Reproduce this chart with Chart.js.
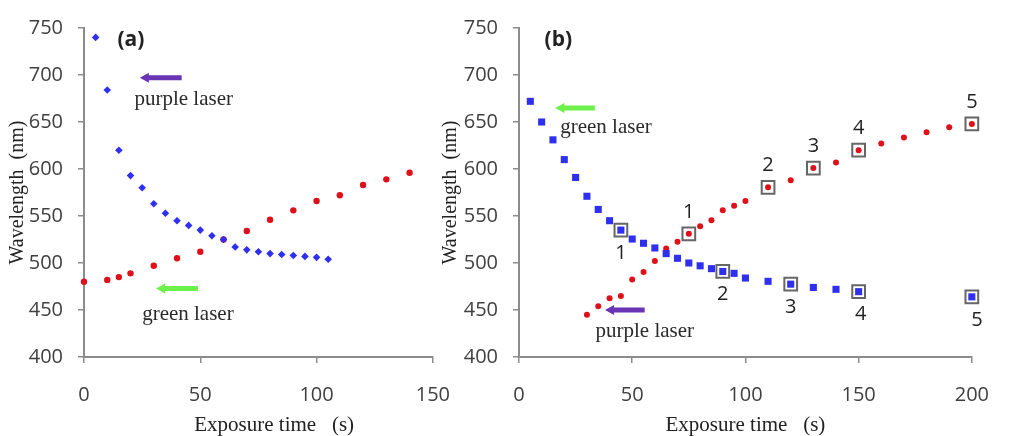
<!DOCTYPE html>
<html>
<head>
<meta charset="utf-8">
<script src="https://cdn.jsdelivr.net/npm/chart.js@4.4.1/dist/chart.umd.min.js"></script>
<style>
  html, body { margin: 0; padding: 0; background: #fff; }
  body { width: 1009px; height: 436px; position: relative; overflow: hidden; }
  .panel { position: absolute; top: 0; height: 436px; }
  #boxA { left: 0; width: 470px; }
  #boxB { left: 430px; width: 579px; }
</style>
</head>
<body>
<div class="panel" id="boxA"><canvas id="chartA"></canvas></div>
<div class="panel" id="boxB"><canvas id="chartB"></canvas></div>
<script>
// panel (a)
var aBlueTime = [5, 10, 15, 20, 25, 30, 35, 40, 45, 50, 55, 60, 65, 70, 75, 80, 85, 90, 95, 100, 105];
var aBlueWave = [740, 684, 620, 593, 580, 563, 553, 545, 540, 535, 529, 525, 517, 514, 512, 510, 509, 508, 507, 506, 504];
var aRedTime = [0, 10, 15, 20, 30, 40, 50, 60, 70, 80, 90, 100, 110, 120, 130, 140];
var aRedWave = [480, 482, 485, 489, 497, 505, 512, 525, 534, 546, 556, 566, 572, 583, 589, 596];

// panel (b)
var bBlueTime = [5, 10, 15, 20, 25, 30, 35, 40, 45, 50, 55, 60, 65, 70, 75, 80, 85, 90, 95, 100, 110, 120, 130, 140, 150, 200];
var bBlueWave = [672, 650, 631, 610, 591, 571, 557, 545, 535, 525.5, 521, 516, 510, 505, 500, 497, 494, 491, 489, 484, 480.5, 477.5, 474, 472, 469.5, 464];
var bRedTime = [30, 35, 40, 45, 50, 55, 60, 65, 70, 75, 80, 85, 90, 95, 100, 110, 120, 130, 140, 150, 160, 170, 180, 190, 200];
var bRedWave = [445, 454, 462.5, 465, 482.5, 490.5, 502, 515.5, 522.5, 531, 539, 545.5, 556, 561, 566, 580.5, 588, 601, 607, 620, 627, 633.5, 639, 644.5, 648];

// boxed points in (b) and their numbers
var bRedBoxed = [75, 110, 130, 150, 200];
var bBlueBoxed = [45, 90, 120, 150, 200];
var boxNumbers = ["1", "2", "3", "4", "5"];

var yMin = 400, yMax = 750, yStep = 50;
var aTimeMax = 150, bTimeMax = 200, timeStep = 50;

// laser arrows and labels, in data units
var aArrows = [
    { from: 42, to: 24, y: 697, color: "#6a35b5" },
    { from: 49, to: 31, y: 473, color: "#6cf04a" }
];
var aNotes = [
    { x: 21.7, y: 674, text: "purple laser" },
    { x: 25, y: 445, text: "green laser" },
    { x: 14.4, y: 737, text: "(a)", bold: true }
];
var bArrows = [
    { from: 33.5, to: 16, y: 665, color: "#6cf04a" },
    { from: 55.5, to: 38, y: 450, color: "#6a35b5" }
];
var bNotes = [
    { x: 18.2, y: 644, text: "green laser" },
    { x: 33.8, y: 427, text: "purple laser" },
    { x: 11.3, y: 737, text: "(b)", bold: true }
];

function pairs(xs, ys) {
    return xs.map(function (t, i) { return { x: t, y: ys[i] }; });
}
function picked(list, xs, ys) {
    return list.map(function (t) { return { x: t, y: ys[xs.indexOf(t)] }; });
}

var overlay = {
    id: "overlay",
    afterDatasetsDraw: function (chart, args, opts) {
        var ctx = chart.ctx;
        var sx = chart.scales.x, sy = chart.scales.y;
        ctx.save();
        (opts.arrows || []).forEach(function (a) {
            var x1 = sx.getPixelForValue(a.from);
            var x2 = sx.getPixelForValue(a.to);
            var py = sy.getPixelForValue(a.y);
            ctx.strokeStyle = a.color;
            ctx.fillStyle = a.color;
            ctx.lineWidth = 5;
            ctx.beginPath();
            ctx.moveTo(x1, py);
            ctx.lineTo(x2 + 7, py);
            ctx.stroke();
            ctx.beginPath();
            ctx.moveTo(x2, py);
            ctx.lineTo(x2 + 9, py - 5);
            ctx.lineTo(x2 + 9, py + 5);
            ctx.closePath();
            ctx.fill();
        });
        ctx.textBaseline = "middle";
        ctx.textAlign = "left";
        (opts.notes || []).forEach(function (n) {
            ctx.fillStyle = n.bold ? "#222" : "#2a2a2a";
            ctx.font = n.bold ? "bold 21px 'Open Sans'" : "21px 'Liberation Serif'";
            ctx.fillText(n.text, sx.getPixelForValue(n.x), sy.getPixelForValue(n.y));
        });
        // numbers next to the boxed points
        ctx.textAlign = "center";
        ctx.fillStyle = "#222";
        ctx.font = "20px 'Open Sans'";
        (opts.boxSets || []).forEach(function (b) {
            var meta = chart.getDatasetMeta(b.index);
            meta.data.forEach(function (el, i) {
                ctx.fillText(boxNumbers[i], el.x + (b.dx ? b.dx[i] : 0), el.y + b.offset);
            });
        });
        ctx.restore();
    }
};

function axes(timeMax, yWidth, xTitle, yTitlePad) {
    var tickFont = { family: "'Open Sans'", size: 20 };
    return {
        x: {
            type: "linear",
            min: 0, max: timeMax,
            afterFit: function (s) { s.height = 79; },
            ticks: { stepSize: timeStep, color: "#404040", font: tickFont, padding: 20 },
            grid: { drawOnChartArea: false, color: "#8c8c8c", tickLength: 6, lineWidth: 1.5 },
            border: { color: "#8c8c8c", width: 2 },
            title: {
                display: true, text: xTitle, color: "#222",
                font: { family: "'Liberation Serif'", size: 21, lineHeight: 1 },
                padding: { top: 0, bottom: 0 }
            }
        },
        y: {
            min: yMin, max: yMax,
            afterFit: function (s) { s.width = yWidth; },
            ticks: { stepSize: yStep, color: "#404040", font: tickFont, padding: 15 },
            grid: { drawOnChartArea: false, color: "#8c8c8c", tickLength: 6, lineWidth: 1.5 },
            border: { color: "#8c8c8c", width: 2 },
            title: {
                display: true, text: "Wavelength  (nm)", color: "#222",
                font: { family: "'Liberation Serif'", size: 20 },
                padding: { top: yTitlePad, bottom: 0 }
            }
        }
    };
}

new Chart("chartA", {
    type: "scatter",
    data: {
        datasets: [{
            data: pairs(aBlueTime, aBlueWave),
            pointStyle: "rectRot",
            pointRadius: 3.8,
            backgroundColor: "#2f2ff0",
            borderWidth: 0
        }, {
            data: pairs(aRedTime, aRedWave),
            pointStyle: "circle",
            pointRadius: 3.2,
            backgroundColor: "#e0101a",
            borderWidth: 0
        }]
    },
    options: {
        responsive: true,
        maintainAspectRatio: false,
        animation: false,
        clip: false,
        layout: { padding: { left: 0, top: 28, right: 34, bottom: 0 } },
        plugins: {
            legend: { display: false },
            tooltip: { enabled: false },
            overlay: { arrows: aArrows, notes: aNotes }
        },
        scales: axes(aTimeMax, 84, "      Exposure time   (s)", 6)
    },
    plugins: [overlay]
});

new Chart("chartB", {
    type: "scatter",
    data: {
        datasets: [{
            data: picked(bRedBoxed, bRedTime, bRedWave),
            pointStyle: "rect",
            pointRadius: 9,
            backgroundColor: "rgba(0,0,0,0)",
            borderColor: "#666",
            borderWidth: 2
        }, {
            data: picked(bBlueBoxed, bBlueTime, bBlueWave),
            pointStyle: "rect",
            pointRadius: 9,
            backgroundColor: "rgba(0,0,0,0)",
            borderColor: "#666",
            borderWidth: 2
        }, {
            data: pairs(bBlueTime, bBlueWave),
            pointStyle: "rect",
            pointRadius: 5,
            backgroundColor: "#2f2ff0",
            borderWidth: 0
        }, {
            data: pairs(bRedTime, bRedWave),
            pointStyle: "circle",
            pointRadius: 3,
            backgroundColor: "#e0101a",
            borderWidth: 0
        }]
    },
    options: {
        responsive: true,
        maintainAspectRatio: false,
        animation: false,
        clip: false,
        layout: { padding: { left: 0, top: 28, right: 29, bottom: 0 } },
        plugins: {
            legend: { display: false },
            tooltip: { enabled: false },
            overlay: {
                arrows: bArrows,
                notes: bNotes,
                boxSets: [
                    { index: 0, offset: -22 },
                    { index: 1, offset: 23, dx: [0, 0, 0, 2, 5] }
                ]
            }
        },
        scales: axes(bTimeMax, 89, "Exposure time   (s)", 9)
    },
    plugins: [overlay]
});
</script>
</body>
</html>
